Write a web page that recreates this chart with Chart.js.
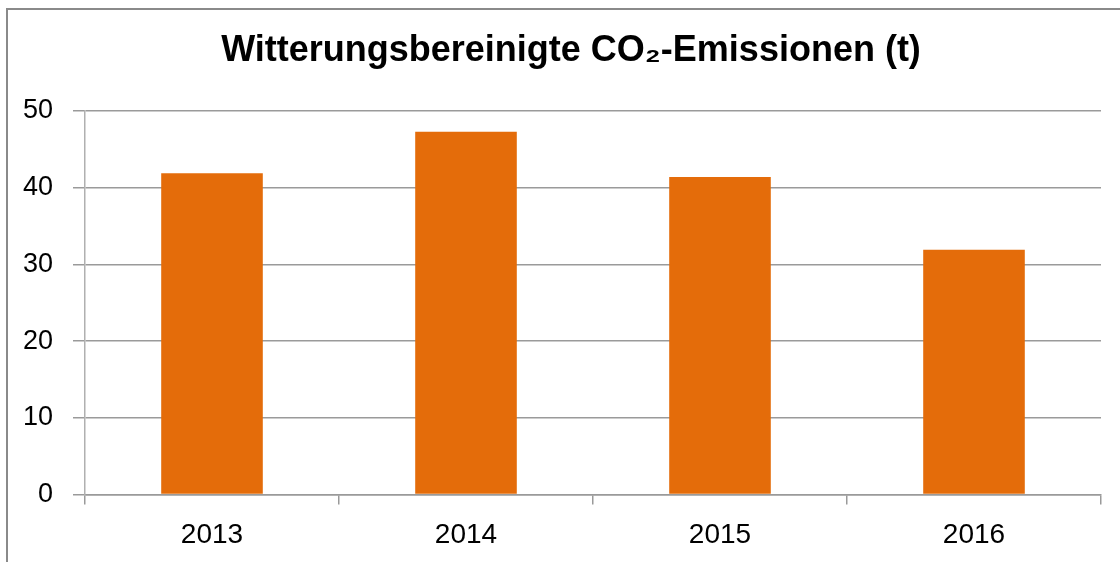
<!DOCTYPE html>
<html><head><meta charset="utf-8">
<script src="https://cdn.jsdelivr.net/npm/chart.js@4.4.1/dist/chart.umd.min.js"></script>
<style>
html,body{margin:0;padding:0;background:#fff;}
#wrap{position:relative;width:1120px;height:562px;overflow:hidden;}
#frame{position:absolute;left:6px;top:8px;width:1200px;height:700px;border-left:2.5px solid #8a8a8a;border-top:2.5px solid #8a8a8a;}
canvas{position:absolute;left:0;top:0;}
</style></head>
<body><div id="wrap"><div id="frame"></div><canvas id="c" width="1120" height="562"></canvas></div>
<script>
const categories = ["2013", "2014", "2015", "2016"];
const emissions = [41.9, 47.3, 41.4, 31.9];
const yTicks = [0, 10, 20, 30, 40, 50];
const titleText = "Witterungsbereinigte CO\u2082-Emissionen (t)";

const gridColor = "#9a9a9a";
const fam = "'Liberation Sans', Arial, sans-serif";
new Chart(document.getElementById("c"), {
  type: "bar",
  data: {
    labels: categories,
    datasets: [{
      data: emissions,
      backgroundColor: "#E46C0A",
      borderWidth: 0,
      barPercentage: 0.4,
      categoryPercentage: 1.0,
      yAxisID: "y"
    }]
  },
  options: {
    responsive: false,
    animation: false,
    layout: { padding: { left: 22, right: 0, top: 0, bottom: 0 } },
    plugins: {
      legend: { display: false },
      tooltip: { enabled: false },
      title: {
        display: true,
        text: titleText,
        color: "#000",
        font: { family: fam, size: 36, weight: "bold", lineHeight: 1.2 },
        padding: { top: 29, bottom: 38.8 }
      }
    },
    scales: {
      x: {
        grid: { display: true, drawOnChartArea: false, drawTicks: true, tickLength: 10, color: gridColor, lineWidth: 1.5, offset: true },
        border: { display: true, color: gridColor, width: 1.5 },
        ticks: { color: "#000", font: { family: fam, size: 28 }, padding: 14 },
        afterFit: s => { s.height = 67.5; }
      },
      y: {
        position: "left",
        min: 0, max: 50,
        afterBuildTicks: s => { s.ticks = yTicks.map(v => ({ value: v })); },
        grid: { color: gridColor, lineWidth: 1.5, tickLength: 12, drawTicks: true },
        border: { display: true, color: "#b0b0b0", width: 1.5 },
        ticks: { color: "#000", font: { family: fam, size: 27 }, padding: 20 },
        afterFit: s => { s.width = 63; }
      },
      yRight: {
        position: "right",
        min: 0, max: 50,
        grid: { display: false, drawOnChartArea: false },
        border: { display: false },
        ticks: { display: false },
        afterFit: s => { s.width = 19; }
      }
    }
  }
});
</script></body></html>
